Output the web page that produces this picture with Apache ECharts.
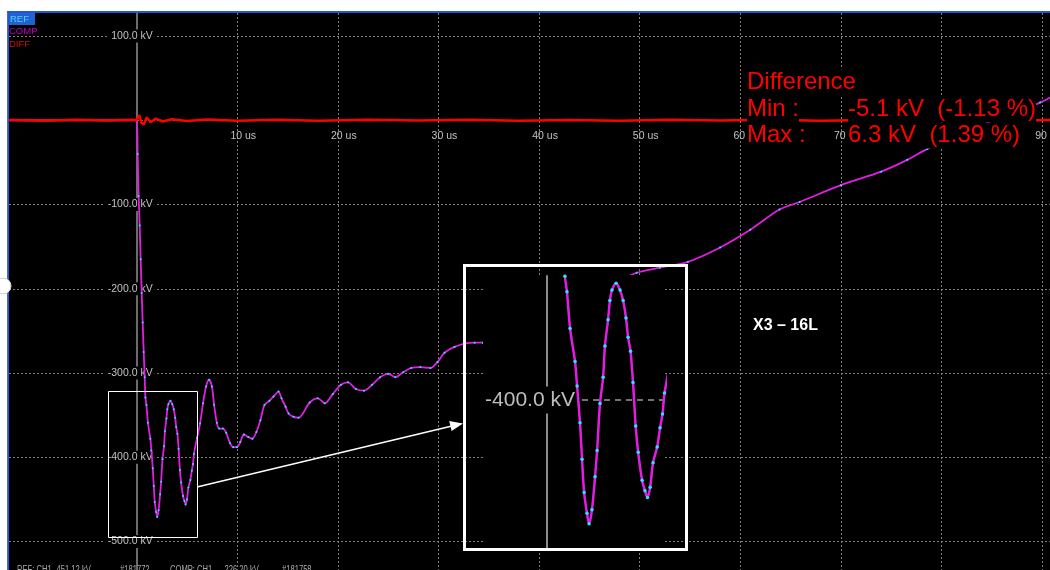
<!DOCTYPE html>
<html>
<head>
<meta charset="utf-8">
<script src="https://cdn.jsdelivr.net/npm/echarts@6/dist/echarts.min.js"></script>
<style>
  html, body { margin: 0; padding: 0; background: #fff; }
  #chart { width: 1050px; height: 570px; }
</style>
</head>
<body>
<div id="chart"></div>
<script>
// Lightning impulse record: reference (REF) and comparison (COMP) waveforms, plus their difference (DIFF)

// sample times in microseconds
const waveTime = [
  -12.7, -6, -2, 0, 0.1, 0.2, 0.3, 0.4, 0.5, 0.6, 0.7, 0.8, 0.87, 0.97, 1.12, 1.36, 1.46, 1.6, 1.7, 1.8,
  1.94, 2.04, 2.18, 2.33, 2.43, 2.57, 2.72, 2.81, 2.96, 3.05, 3.15, 3.35, 3.54, 3.69, 3.83, 3.93, 4.05, 4.17, 4.3, 4.42,
  4.61, 4.75, 4.87, 5.0, 5.14, 5.34, 5.48, 5.6, 5.7, 6.0, 6.3, 6.6, 6.9, 7.2, 7.48, 7.7, 7.97, 8.2, 8.57, 8.9,
  9.27, 9.6, 9.96, 10.3, 10.66, 11.1, 11.5, 11.9, 12.3, 12.7, 13.2, 13.6, 14.1, 14.4, 14.8, 15.1, 15.6, 16.1, 17.2, 18.0,
  18.7, 19.5, 20.3, 21.0, 21.8, 22.6, 23.4, 24.2, 25.0, 25.7, 26.5, 27.3, 28.2, 29.2, 29.9, 30.6, 31.6, 32.6, 33.6, 34.4,
  38.1, 42.1, 46.0, 49.7, 52.0, 54.8, 58.0, 61.0, 63.9, 65.9, 70.0, 74.0, 76.6, 78.6, 81.8, 85.8, 89.8, 90.8
];

// comparison record, kV
const compKv = [
  0, 0, 0, 0, -40, -90, -125, -165, -205, -240, -275, -305, -329, -338, -359, -378, -392, -413, -434, -453,
  -465, -471, -463, -444, -429, -402, -387, -369, -354, -343, -337, -333, -337, -343, -353, -364, -372, -390, -415, -430,
  -446, -452, -456, -450, -436, -427, -416, -408, -396, -377, -360, -336, -316, -308, -316, -338, -359, -366, -366, -371,
  -383, -388, -388, -382, -373, -376, -378, -370, -356, -338, -333, -328, -322, -330, -340, -348, -352, -353, -335, -330,
  -336, -325, -314, -311, -319, -321, -314, -305, -301, -305, -299, -294, -293, -294, -287, -276, -269, -265, -264, -264,
  -243, -219, -201, -181, -175, -168, -151, -130, -106, -97, -77, -61, -47, -34, -17, 3, 21, 27
];

// reference record, kV (overlays the comparison within a few kV)
const refKv = [
  0, 0, 0, 0, -40, -90, -125, -165, -205, -240, -275, -305, -329, -338, -359, -378, -392, -413, -434, -453,
  -465, -471, -463, -444, -429, -402, -387, -369, -354, -343, -337, -333, -337, -343, -353, -364, -372, -390, -415, -430,
  -446, -452, -456, -450, -436, -427, -416, -408, -396, -377, -360, -336, -316, -308, -316, -338, -359, -366, -366, -371,
  -383, -388, -388, -382, -373, -376, -378, -370, -356, -338, -333, -328, -322, -330, -340, -348, -352, -353, -335, -330,
  -336, -325, -314, -311, -319, -321, -314, -305, -301, -305, -299, -294, -293, -294, -287, -276, -269, -265, -264, -264,
  -243, -219, -201, -181, -175, -168, -151, -130, -106, -97, -77, -61, -47, -34, -17, 3, 21, 27
];

// difference trace (COMP - REF), kV
const diffTime = [
  -12.7, -9, -6, -3, -0.5, 0, 0.25, 0.45, 0.7, 1.0, 1.4, 1.9, 2.6, 3.5, 5, 7, 10,
  14, 18, 23, 28, 33, 38, 43, 48, 53, 58, 63, 68, 73, 78, 83, 88, 90.8
];
const diffKv = [
  0.4, -0.6, 0.5, -0.4, 0.6, 0, 6.28, -2.5, -5.1, 3.2, -2.4, 2.0, -1.5, 1.2, -0.8, 0.9, -0.7,
  0.6, -0.5, 0.6, -0.4, 0.5, -0.6, 0.4, -0.5, 0.5, -0.4, 0.6, -0.5, 0.4, -0.5, 0.5, -0.4, 0.3
];

// axis ticks
const timeTicks = [10, 20, 30, 40, 50, 60, 70, 80, 90];
const kvGrid = [100, 0, -100, -200, -300, -400, -500];
const kvLabels = [100, -100, -200, -300, -400, -500];
const zoomKvTicks = [-400];

// record info
const refPeakKv = 451.12;
const compPeakKv = 226.20;
const refShot = '#181772';
const compShot = '#181758';
const testTitle = 'X3 \u2013 16L';

const FONT = '"Liberation Sans", Arial, sans-serif';
const MAGENTA = '#e31ee3';
const CYAN = '#27e3ff';
const RED = '#ff0000';

// axis ranges and plot boxes
const mainBox = { left: 9, top: 13, width: 1041, height: 557 };
const mainT = [-12.69, 90.79];
const mainKv = [-533.8, 127.3];
const zoomBox = { left: 483, top: 276, width: 182, height: 272 };
const zoomT = [-3.1, 5.72];
const zoomKv = [-484.9, -328.9];

const pair = (xs, ys) => xs.map((x, i) => [x, ys[i]]);
const compData = pair(waveTime, compKv);
const refData = pair(waveTime, refKv);
const diffData = pair(diffTime, diffKv);

const dMin = Math.min(...diffKv);
const dMax = Math.max(...diffKv);
const pct = v => (v / refPeakKv * 100).toFixed(2);
const minText = `${dMin.toFixed(1)} kV  (${pct(dMin)} %)`;
const maxText = `${dMax.toFixed(1)} kV  (${pct(dMax)} %)`;

// the axes cross at t = 0 and 0 kV: shift each axis from its grid edge to that crossing
const zeroFrac = (r) => (0 - r[0]) / (r[1] - r[0]);
const yAxisShift = -zeroFrac(mainT) * mainBox.width;
const xAxisShift = -zeroFrac(mainKv) * mainBox.height;
const zoomYAxisShift = -zeroFrac(zoomT) * zoomBox.width;

const gridDots = { color: '#7d7d7d', type: [2, 2], width: 1 };

const chart = echarts.init(document.getElementById('chart'), null, { renderer: 'canvas' });

function redText(x, y, text) {
  return {
    type: 'text', x, y, z: 40,
    style: {
      text, fill: RED, font: '24px ' + FONT,
      align: 'left', verticalAlign: 'middle',
      backgroundColor: '#000', lineHeight: 26
    }
  };
}
// status line text, condensed horizontally like the recorder's font
function grayText(x, text) {
  return {
    type: 'text', x, y: 565, z: 40, scaleX: 0.76,
    style: { text, fill: '#a9a9a9', font: '10px ' + FONT, align: 'left', verticalAlign: 'top' }
  };
}

chart.setOption({
  animation: false,
  backgroundColor: '#000',
  grid: [
    { left: mainBox.left, top: mainBox.top, width: mainBox.width, height: mainBox.height,
      outerBoundsMode: 'none', containLabel: false },
    { left: zoomBox.left, top: zoomBox.top, width: zoomBox.width, height: zoomBox.height,
      outerBoundsMode: 'none', containLabel: false }
  ],
  xAxis: [
    {
      type: 'value', gridIndex: 0, min: mainT[0], max: mainT[1],
      position: 'bottom', offset: xAxisShift,
      axisLine: { show: false, onZero: false },
      axisTick: { show: false, customValues: timeTicks },
      axisLabel: {
        customValues: timeTicks, formatter: v => v + ' us',
        color: '#c2c2c2', fontSize: 10.5, fontFamily: FONT, margin: 10, padding: [0, 0, 0, 12]
      },
      splitLine: { show: true, lineStyle: gridDots }
    },
    {
      type: 'value', gridIndex: 1, min: zoomT[0], max: zoomT[1], z: 11,
      axisLine: { show: false, onZero: false }, axisTick: { show: false },
      axisLabel: { show: false }, splitLine: { show: false }
    }
  ],
  yAxis: [
    {
      type: 'value', gridIndex: 0, min: mainKv[0], max: mainKv[1],
      position: 'left', offset: yAxisShift,
      axisLine: { show: true, onZero: false, lineStyle: { color: '#8f8f8f', width: 1.5 } },
      axisTick: { show: false, customValues: kvGrid },
      axisLabel: {
        customValues: kvLabels, formatter: v => v.toFixed(1) + ' kV',
        color: '#c2c2c2', fontSize: 10.5, fontFamily: FONT, margin: -18,
        backgroundColor: '#000', padding: [1, 2, 1, 4]
      },
      splitLine: { show: true, lineStyle: gridDots }
    },
    {
      type: 'value', gridIndex: 1, min: zoomKv[0], max: zoomKv[1], z: 11,
      position: 'left', offset: zoomYAxisShift,
      axisLine: { show: true, onZero: false, lineStyle: { color: '#8c8c8c', width: 2 } },
      axisTick: { show: false, customValues: zoomKvTicks },
      axisLabel: {
        customValues: zoomKvTicks, formatter: v => v.toFixed(1) + ' kV',
        color: '#bdbdbd', fontSize: 21, fontFamily: FONT, margin: -30,
        backgroundColor: '#000', padding: [3, 2, 3, 12]
      },
      splitLine: { show: true, lineStyle: { color: '#9a9a9a', type: [6, 5], width: 1.5 } }
    }
  ],
  series: [
    {
      name: 'COMP', type: 'line', xAxisIndex: 0, yAxisIndex: 0, data: compData, z: 3,
      showSymbol: false, smooth: 0.3, silent: true,
      lineStyle: { color: MAGENTA, width: 1.8 }
    },
    {
      name: 'REF', type: 'line', xAxisIndex: 0, yAxisIndex: 0, data: refData, z: 4,
      showSymbol: true, showAllSymbol: true, symbol: 'circle', symbolSize: 2, silent: true,
      lineStyle: { opacity: 0 }, itemStyle: { color: CYAN }
    },
    {
      name: 'DIFF', type: 'line', xAxisIndex: 0, yAxisIndex: 0, data: diffData, z: 5,
      showSymbol: false, silent: true,
      lineStyle: { color: RED, width: 2.5 }
    },
    {
      name: 'COMP', type: 'line', xAxisIndex: 1, yAxisIndex: 1, data: compData, z: 12,
      showSymbol: false, smooth: 0.3, silent: true, clip: true,
      lineStyle: { color: MAGENTA, width: 2.5 }
    },
    {
      name: 'REF', type: 'line', xAxisIndex: 1, yAxisIndex: 1, data: refData, z: 13,
      showSymbol: true, showAllSymbol: true, symbol: 'circle', symbolSize: 3.5, silent: true, clip: true,
      lineStyle: { opacity: 0 }, itemStyle: { color: CYAN }
    }
  ],
  graphic: {
    elements: [
      // picture area of the magnified view
      { type: 'rect', z: 10, shape: { x: 483, y: 275, width: 182, height: 274 }, style: { fill: '#000' } },
      { type: 'rect', z: 20, shape: { x: 464.5, y: 265.5, width: 222, height: 284 },
        style: { fill: 'none', stroke: '#fff', lineWidth: 3 } },
      // region that is magnified, and the pointer to it
      { type: 'rect', z: 20, shape: { x: 108.5, y: 391.5, width: 89, height: 146 },
        style: { fill: 'none', stroke: '#fff', lineWidth: 1 } },
      { type: 'line', z: 20, shape: { x1: 197, y1: 487, x2: 452, y2: 426 },
        style: { stroke: '#fff', lineWidth: 1.3 } },
      { type: 'polygon', z: 20, shape: { points: [[463, 423.5], [449.2, 421.1], [451.6, 430.9]] },
        style: { fill: '#fff' } },

      // window frame
      { type: 'rect', z: 50, shape: { x: 0, y: 0, width: 1050, height: 11 }, style: { fill: '#fff' } },
      { type: 'rect', z: 50, shape: { x: 0, y: 0, width: 7.5, height: 570 }, style: { fill: '#fff' } },
      { type: 'rect', z: 51, shape: { x: 7.5, y: 11, width: 1042.5, height: 2 }, style: { fill: '#1f57d8' } },
      { type: 'rect', z: 51, shape: { x: 7.5, y: 11, width: 1.5, height: 559 }, style: { fill: '#1f57d8' } },
      { type: 'circle', z: 52, shape: { cx: 3, cy: 286, r: 8 }, style: { fill: '#fff', stroke: '#d0d0d0', lineWidth: 1 } },

      // channel legend
      { type: 'rect', z: 53, shape: { x: 9, y: 13, width: 26, height: 12 }, style: { fill: '#1f63d3' } },
      { type: 'text', z: 54, x: 10, y: 19.5, style: { text: 'REF', fill: '#5ccbff', font: '9.5px ' + FONT, verticalAlign: 'middle' } },
      { type: 'text', z: 54, x: 9, y: 31.5, style: { text: 'COMP', fill: '#c400c4', font: '9.5px ' + FONT, verticalAlign: 'middle' } },
      { type: 'text', z: 54, x: 9, y: 44, style: { text: 'DIFF', fill: '#cc1010', font: '9.5px ' + FONT, verticalAlign: 'middle' } },

      // difference summary
      redText(747, 82.5, 'Difference'),
      redText(747, 109, 'Min :'),
      redText(747, 135.5, 'Max :'),
      redText(848, 109, minText),
      redText(848, 135.5, maxText),

      // test label
      { type: 'text', z: 40, x: 753, y: 326,
        style: { text: testTitle, fill: '#fff', font: 'bold 16px ' + FONT, verticalAlign: 'middle' } },

      // status line
      grayText(17, 'REF: CH1'),
      grayText(54, '-' + refPeakKv.toFixed(2) + ' kV'),
      grayText(120, refShot),
      grayText(170, 'COMP: CH1'),
      grayText(222, '-' + compPeakKv.toFixed(2) + ' kV'),
      grayText(282, compShot)
    ]
  }
});
</script>
</body>
</html>
